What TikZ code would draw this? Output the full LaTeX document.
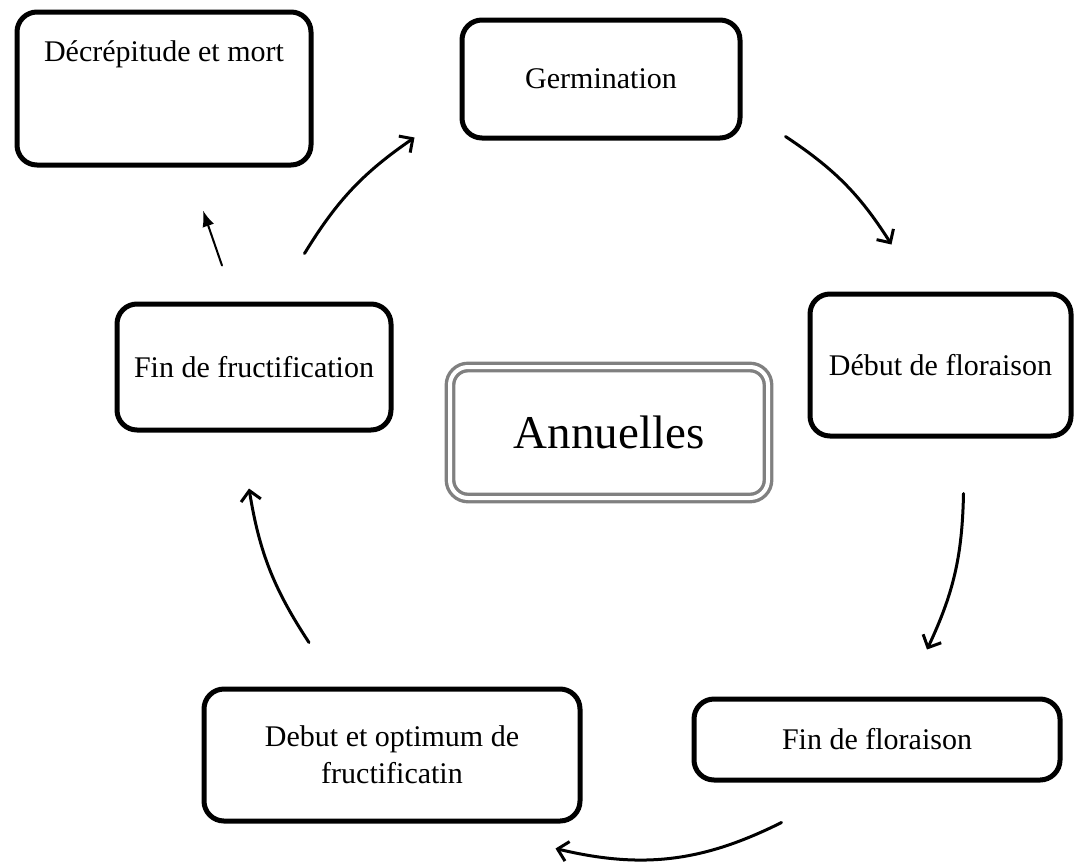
\documentclass[tikz,border=0pt]{standalone}
\usepackage{fontspec}
\setmainfont{Liberation Serif}
\usetikzlibrary{calc,arrows.meta}
\tikzset{
cycle/.style={
x=0.5pt, y=-0.5pt,
every node/.style={font=\fontsize{15}{18.5}\selectfont},
stage/.style={draw, line width=2.5pt, rounded corners=10pt, align=center, inner sep=0pt},
center/.style={draw=gray, double=white, double distance=2pt, line width=1.7pt, rounded corners=9pt,
  font=\fontsize{23.5}{28}\selectfont},
->, >={Straight Barb[length=5pt,width=10pt]}, line width=1.5pt, line cap=round,
every edge/.style={draw, bend left=20},}}

\begin{document}
\begin{tikzpicture}[cycle]
\useasboundingbox (0,0) rectangle (1075,867);
\node[stage,minimum width=147pt,minimum height=76.5pt,
  label={[anchor=center,yshift=-22.5pt]north:Décrépitude et mort}] (deces) at (164,88.5) {};
\node[stage,minimum width=139pt,minimum height=59pt] (germ) at (601,79) {Germination};
\node[stage,minimum width=130.5pt,minimum height=71pt] (debfl) at (940.5,365) {Début de floraison};
\node[stage,minimum width=183pt,minimum height=40.5pt] (finfl) at (877,739.5) {Fin de floraison};
\node[stage,minimum width=188pt,minimum height=66pt] (debopt) at (392,755) {Debut et optimum de\\fructificatin};
\node[stage,minimum width=137pt,minimum height=63pt] (finfr) at (254,367) {Fin de fructification};
\node[center,minimum width=159pt,minimum height=65.5pt] (annu) at (609,432.5) {Annuelles};
%
\path ($(finfr.north east)+(-89,-48)$) edge[bend left=12] ($(germ.south west)+(-45,-3)$);
\path ($(germ.south east)+(43,-4)$) edge[bend left=12] ($(debfl.north west)+(84,-47)$);
\path ($(debfl.south east)+(-110,55)$) edge[bend left=12] ($(finfl.north)+(50,-47)$);
\path ($(finfl.south west)+(90,40)$) edge ($(debopt.south east)+(-27,25)$);
\path ($(debopt.north)+(-83,-44)$) edge[bend left=12] ($(finfr.south)+(-5,56)$);
\path ($(finfr.north)+(-32,-36)$) edge[bend left=0,line width=1pt,-{Latex[length=8pt,width=6pt]}] ($(deces.south)+(39,43)$);
\end{tikzpicture}
\end{document}
